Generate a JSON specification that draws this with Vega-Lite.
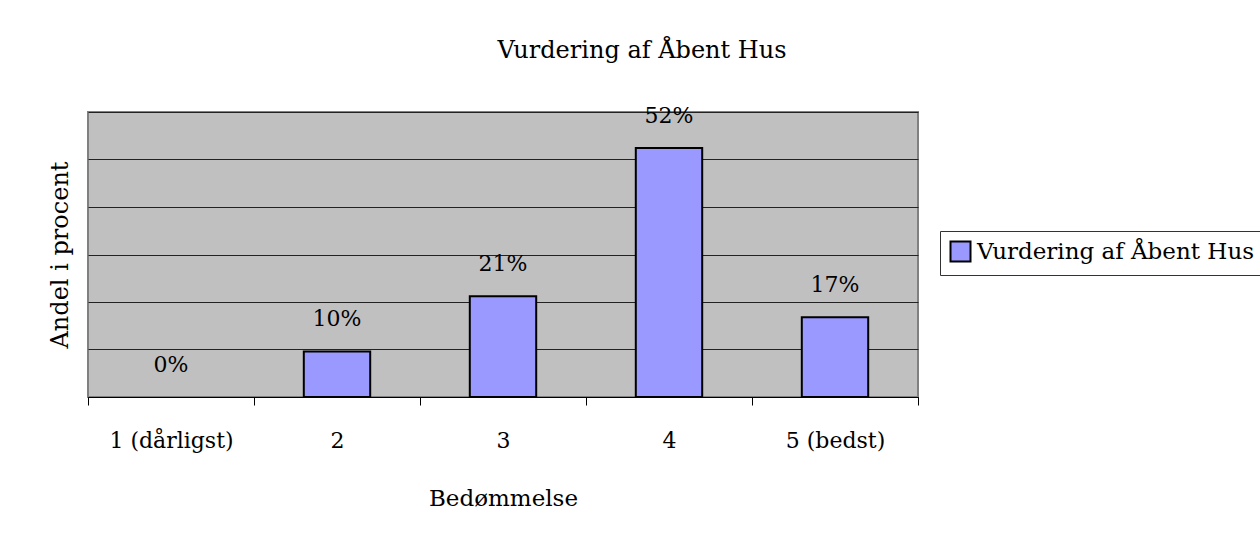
{
  "$schema": "https://vega.github.io/schema/vega-lite/v6.json",
  "autosize": "none",
  "width": 830,
  "height": 285,
  "padding": {"left": 88, "top": 112, "right": 342, "bottom": 146},
  "background": "white",
  "title": {
    "text": "Vurdering af Åbent Hus",
    "font": "DejaVu Serif",
    "fontSize": 24,
    "fontWeight": "normal",
    "color": "black",
    "anchor": "middle",
    "dx": 139,
    "offset": 42
  },
  "data": {
    "values": [
      {"kategori": "1 (dårligst)", "andel": 0, "serie": "Vurdering af Åbent Hus"},
      {"kategori": "2", "andel": 0.096, "serie": "Vurdering af Åbent Hus"},
      {"kategori": "3", "andel": 0.212, "serie": "Vurdering af Åbent Hus"},
      {"kategori": "4", "andel": 0.524, "serie": "Vurdering af Åbent Hus"},
      {"kategori": "5 (bedst)", "andel": 0.168, "serie": "Vurdering af Åbent Hus"}
    ]
  },
  "encoding": {
    "x": {
      "field": "kategori",
      "type": "ordinal",
      "sort": null,
      "scale": {"paddingInner": 0, "paddingOuter": 0},
      "axis": {
        "title": "Bedømmelse",
        "labelAngle": 0,
        "labelFont": "DejaVu Serif",
        "labelFontSize": 22,
        "labelColor": "black",
        "labelPadding": 25,
        "tickBand": "extent",
        "tickSize": 8,
        "tickColor": "black",
        "domainColor": "black",
        "domainWidth": 1,
        "titleFont": "DejaVu Serif",
        "titleFontSize": 23,
        "titleFontWeight": "normal",
        "titleColor": "black",
        "titlePadding": 36
      }
    },
    "y": {
      "field": "andel",
      "type": "quantitative",
      "scale": {"domain": [0, 0.6], "nice": false},
      "axis": {
        "title": "Andel i procent",
        "values": [0, 0.1, 0.2, 0.3, 0.4, 0.5, 0.6],
        "labels": false,
        "ticks": false,
        "domain": false,
        "grid": true,
        "gridColor": "#222222",
        "gridWidth": 1,
        "titleFont": "DejaVu Serif",
        "titleFontSize": 24,
        "titleFontWeight": "normal",
        "titleColor": "black",
        "titlePadding": 16
      }
    }
  },
  "layer": [
    {
      "mark": {"type": "bar", "stroke": "black", "strokeWidth": 2, "width": {"band": 0.4}},
      "encoding": {
        "strokeOpacity": {
          "condition": {"test": "datum.andel == 0", "value": 0},
          "value": 1
        },
        "color": {
          "field": "serie",
          "type": "nominal",
          "scale": {"range": ["#9999FF"]},
          "legend": {
            "title": null,
            "orient": "none",
            "legendX": 852,
            "legendY": 119,
            "symbolType": "square",
            "symbolSize": 400,
            "symbolStrokeColor": "black",
            "symbolStrokeWidth": 2,
            "symbolOpacity": 1,
            "labelFont": "DejaVu Serif",
            "labelFontSize": 23,
            "labelColor": "black",
            "labelLimit": 400,
            "labelOffset": 5,
            "strokeColor": "#333333",
            "padding": 9,
            "fillColor": "white"
          }
        }
      }
    },
    {
      "mark": {
        "type": "text",
        "dy": -32,
        "baseline": "middle",
        "font": "DejaVu Serif",
        "fontSize": 22,
        "color": "black"
      },
      "encoding": {
        "text": {"field": "andel", "type": "quantitative", "format": ".0%"}
      }
    }
  ],
  "config": {
    "view": {"fill": "#C0C0C0", "stroke": "#808080", "strokeWidth": 2}
  }
}
